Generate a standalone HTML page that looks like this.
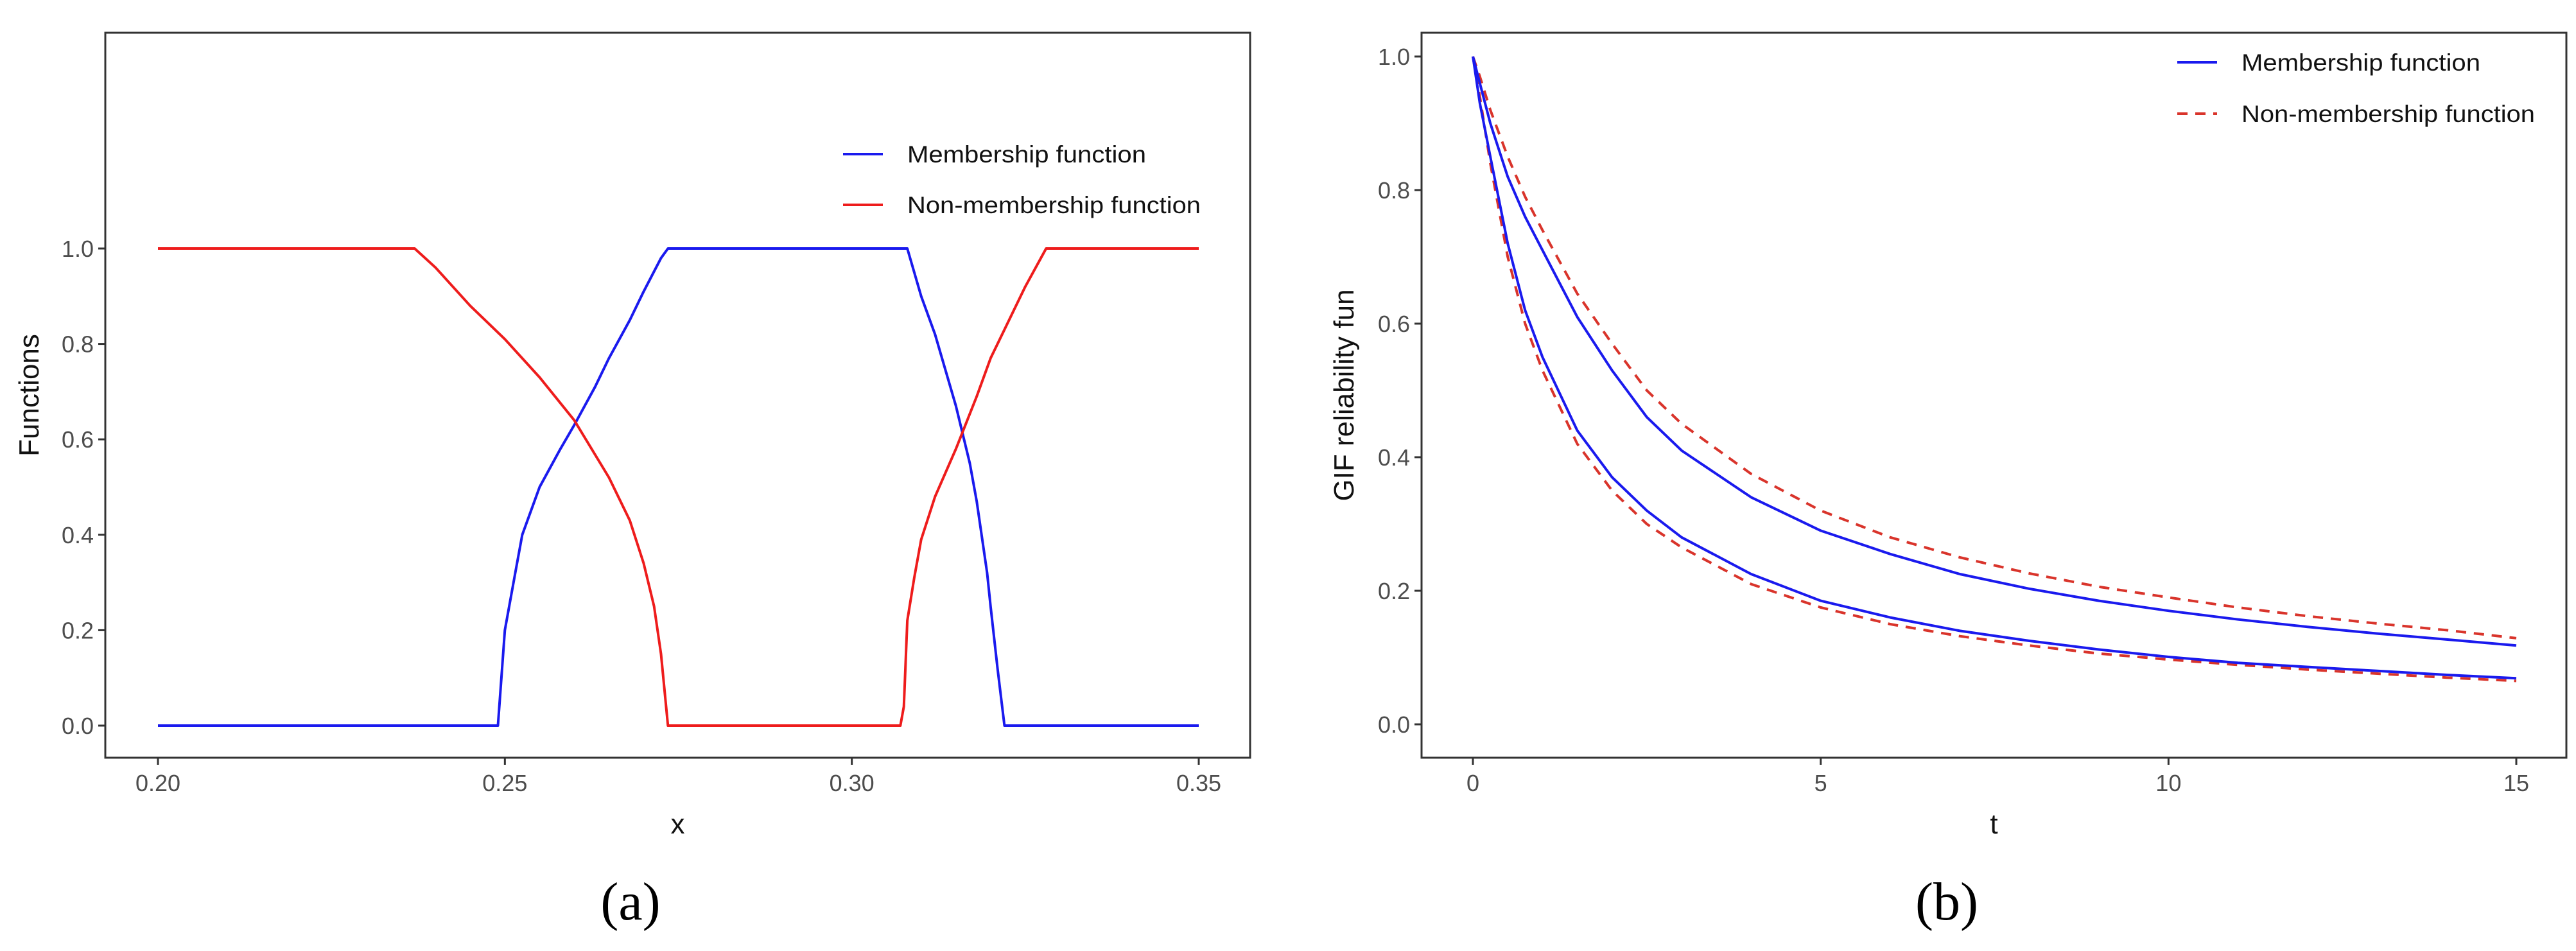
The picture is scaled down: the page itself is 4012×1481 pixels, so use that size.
<!DOCTYPE html>
<html><head><meta charset="utf-8">
<style>
html,body{margin:0;padding:0;background:#fff;}
svg{display:block;font-family:"Liberation Sans",sans-serif;}
.tick{fill:#4d4d4d;font-size:36px;}
.title{fill:#111;font-size:44px;}
.leg{fill:#111;font-size:37px;}
.cap{font-family:"Liberation Serif",serif;font-size:84px;fill:#000;}
</style></head>
<body>
<svg id="fig" width="4012" height="1481" viewBox="0 0 4012 1481" xmlns="http://www.w3.org/2000/svg">
<g id="pa"></g>
<g id="pb"></g>
</svg>
<script>
// Panel (a) data
const aX = [0.20,0.237,0.240,0.245,0.249,0.250,0.2515,0.2525,0.255,0.258,0.260,0.263,0.265,0.268,0.270,0.2725,0.2735,0.2745,0.308,0.310,0.312,0.315,0.317,0.318,0.3195,0.320,0.321,0.322,0.35];
const aMem = [0,0,0,0,0,0.20,0.32,0.40,0.50,0.58,0.63,0.71,0.77,0.85,0.91,0.98,1,1,1,0.90,0.82,0.67,0.55,0.47,0.32,0.25,0.12,0,0];
const aNX = [0.20,0.237,0.240,0.245,0.250,0.255,0.260,0.265,0.268,0.270,0.2715,0.2725,0.2735,0.307,0.3075,0.308,0.309,0.310,0.312,0.315,0.318,0.320,0.325,0.328,0.35];
const aNon = [1,1,0.96,0.88,0.81,0.73,0.64,0.52,0.43,0.34,0.25,0.15,0,0,0.04,0.22,0.31,0.39,0.48,0.58,0.69,0.77,0.92,1,1];
const aXTicks = ["0.20","0.25","0.30","0.35"];
const aYTicks = ["0.0","0.2","0.4","0.6","0.8","1.0"];
// Panel (b) data
const bT = [0,0.1,0.25,0.5,0.75,1,1.5,2,2.5,3,4,5,6,7,8,9,10,11,12,13,14,15];
const bMemUp = [1,0.96,0.90,0.82,0.76,0.71,0.61,0.53,0.46,0.41,0.34,0.29,0.255,0.225,0.203,0.185,0.17,0.157,0.146,0.136,0.127,0.118];
const bNonUp = [1,0.97,0.92,0.85,0.79,0.74,0.645,0.57,0.50,0.45,0.375,0.32,0.28,0.25,0.226,0.206,0.19,0.175,0.162,0.151,0.141,0.129];
const bMemLo = [1,0.93,0.85,0.72,0.62,0.55,0.44,0.37,0.32,0.28,0.225,0.185,0.16,0.14,0.125,0.112,0.101,0.092,0.086,0.080,0.074,0.069];
const bNonLo = [1,0.94,0.84,0.70,0.60,0.53,0.42,0.35,0.30,0.265,0.21,0.175,0.15,0.132,0.118,0.106,0.097,0.089,0.082,0.076,0.070,0.065];
const bXTicks = ["0","5","10","15"];
const bYTicks = ["0.0","0.2","0.4","0.6","0.8","1.0"];

const NS="http://www.w3.org/2000/svg";
function mk(parent,tag,attrs,text){const e=document.createElementNS(NS,tag);for(const k in attrs)e.setAttribute(k,attrs[k]);if(text!==undefined)e.textContent=text;parent.appendChild(e);return e;}

function panel(g,o){
  const sx=v=>o.x0+(v-o.xmin)/(o.xmax-o.xmin)*(o.x1-o.x0);
  const sy=v=>o.y0+(v-o.ymin)/(o.ymax-o.ymin)*(o.y1-o.y0);
  const box=mk(g,'rect',{x:o.L,y:o.T,width:o.R-o.L,height:o.B-o.T,fill:'none',stroke:'#333',"stroke-width":3});
  
  
  o.xt.forEach(t=>{const v=parseFloat(t),x=sx(v);
    const l=mk(g,'line',{x1:x,x2:x,y1:o.B,y2:o.B+11,stroke:'#333',"stroke-width":3});
    
    
    const tx=mk(g,'text',{x:x,y:o.B+52,"text-anchor":"middle",class:'tick'},t);
    
    });
  o.yt.forEach(t=>{const v=parseFloat(t),y=sy(v);
    const l=mk(g,'line',{x1:o.L-11,x2:o.L,y1:y,y2:y,stroke:'#333',"stroke-width":3});
    
    
    const tx=mk(g,'text',{x:o.L-18,y:y+13,"text-anchor":"end",class:'tick'},t);
    
    });
  const xl=mk(g,'text',{x:(o.L+o.R)/2,y:o.B+118,"text-anchor":"middle",class:'title'},o.xlab);
  
  
  const yl=mk(g,'text',{transform:`translate(${o.ylx},${(o.T+o.B)/2}) rotate(-90)`,"text-anchor":"middle",class:'title'},o.ylab);
  
  
  const cap=mk(g,'text',{x:o.capx,y:1432,"text-anchor":"middle",class:'cap'},o.cap);
  
  
  o.series.forEach(s=>{
    const d=s.xs.map((x,i)=>(i?'L':'M')+sx(x).toFixed(1)+','+sy(s.ys[i]).toFixed(1)).join(' ');
    const p=mk(g,'path',{d:d,fill:'none',stroke:s.c,"stroke-width":4,"stroke-dasharray":s.dash||'none',"stroke-linejoin":"round"});
    
    
  });
  o.legend.forEach((s,i)=>{
    const y=o.legY+i*o.legDy;
    const l=mk(g,'line',{x1:o.legX,x2:o.legX+62,y1:y,y2:y,stroke:s.c,"stroke-width":4,"stroke-dasharray":s.dash||'none'});
    
    
    const t=mk(g,'text',{x:o.legX+100,y:y+13,class:'leg',textLength:s.tl,lengthAdjust:'spacingAndGlyphs'},s.label);
    
    
  });
}
const BLUE='#1a1aee', RED='#ee1c1c', DRED='#d9342b';
panel(document.getElementById('pa'),{L:164,R:1947,T:51,B:1180,x0:246,x1:1867,xmin:0.20,xmax:0.35,y0:1130,y1:387,ymin:0,ymax:1,
  xt:aXTicks,yt:aYTicks,xlab:'x',ylab:'Functions',ylx:60,cap:'(a)',capx:982,
  series:[{xs:aX,ys:aMem,c:BLUE,name:'membership-line'},{xs:aNX,ys:aNon,c:RED,name:'non-membership-line'}],
  legend:[{c:BLUE,label:'Membership function',tl:372},{c:RED,label:'Non-membership function',tl:457}],legX:1313,legY:240,legDy:79});
panel(document.getElementById('pb'),{L:2214,R:3997,T:51,B:1180,x0:2294,x1:3919,xmin:0,xmax:15,y0:1128,y1:88,ymin:0,ymax:1,
  xt:bXTicks,yt:bYTicks,xlab:'t',ylab:'GIF reliability fun',ylx:2108,cap:'(b)',capx:3032,
  series:[{xs:bT,ys:bNonUp,c:DRED,dash:'16,12',name:'non-membership-upper'},{xs:bT,ys:bNonLo,c:DRED,dash:'16,12',name:'non-membership-lower'},
          {xs:bT,ys:bMemUp,c:BLUE,name:'membership-upper'},{xs:bT,ys:bMemLo,c:BLUE,name:'membership-lower'}],
  legend:[{c:BLUE,label:'Membership function',tl:372},{c:DRED,dash:'16,12',label:'Non-membership function',tl:457}],legX:3391,legY:97,legDy:80});
</script>
</body></html>
